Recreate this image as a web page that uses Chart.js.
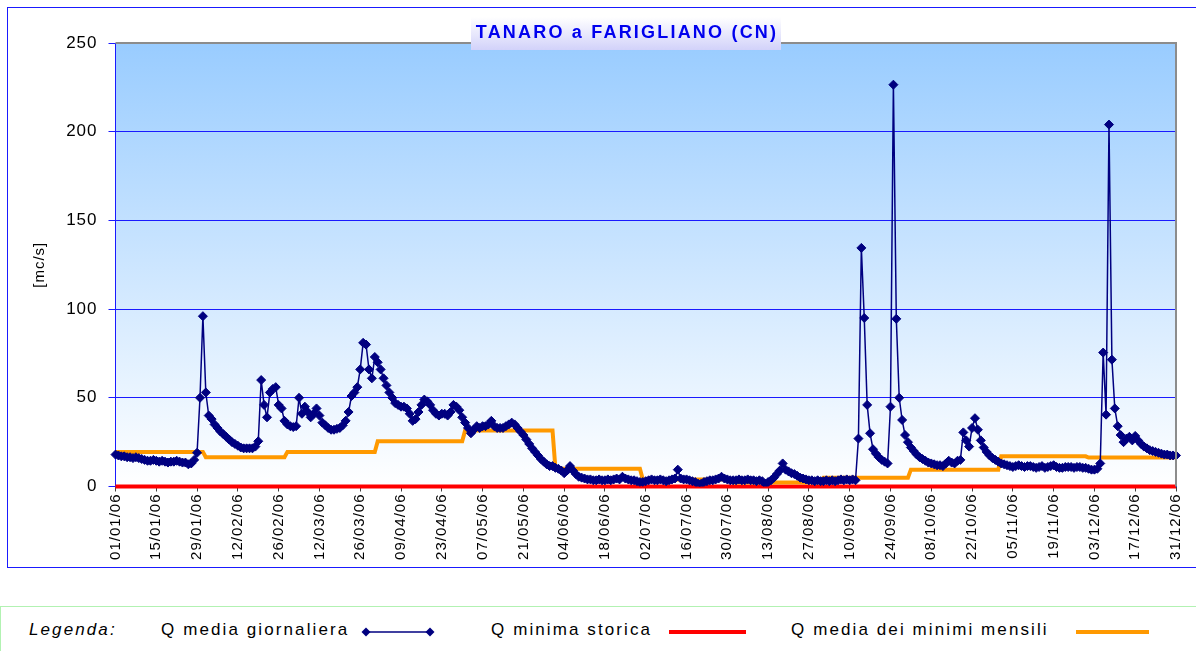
<!DOCTYPE html>
<html>
<head>
<meta charset="utf-8">
<script src="https://cdn.jsdelivr.net/npm/chart.js@4/dist/chart.umd.min.js"></script>
<style>
  body { margin: 0; width: 1196px; height: 651px; overflow: hidden; position: relative; background: #fff;
         font-family: Arial, "Liberation Sans", sans-serif; }
  #frame { position: absolute; left: 7px; top: 7px; width: 1200px; height: 561px; border: 1px solid #1a1aff; box-sizing: border-box; }
  #wrap { position: absolute; left: 0; top: 0; width: 1196px; height: 567px; }
  #legend { position: absolute; left: 0; top: 606px; width: 1210px; height: 60px; border: 1.5px solid #b2f2b2; background: #fff; }
  .lg { position: absolute; top: 13px; font-size: 17px; letter-spacing: 2.1px; color: #000; white-space: nowrap; }
  .bar { position: absolute; top: 23px; height: 4px; }
</style>
</head>
<body>
<div id="frame"></div>
<div id="wrap"><canvas id="chart"></canvas></div>
<div id="legend">
  <span class="lg" style="left:28px;font-style:italic;">Legenda:</span>
  <span class="lg" style="left:160px;">Q media giornaliera</span>
  <svg style="position:absolute;left:359px;top:17px" width="76" height="16">
    <line x1="6" y1="8" x2="70" y2="8" stroke="#000080" stroke-width="1.5"/>
    <polygon points="6,3.5 10.5,8 6,12.5 1.5,8" fill="#000080"/>
    <polygon points="70,3.5 74.5,8 70,12.5 65.5,8" fill="#000080"/>
  </svg>
  <span class="lg" style="left:490px;">Q minima storica</span>
  <div class="bar" style="left:668px;width:77px;background:#ff0000;"></div>
  <span class="lg" style="left:790px;">Q media dei minimi mensili</span>
  <div class="bar" style="left:1075px;width:73px;background:#ff9900;"></div>
</div>
<script>
// portate giornaliere 2006 [mc/s], un array per mese
const qGen = [18, 17.5, 17, 17, 16.5, 16.5, 16, 16.5, 16, 15.5, 15, 14.5, 14.5, 15, 14.5, 14, 14.5, 14, 13.5, 14,
  14, 14.5, 14, 13.5, 13.5, 12.5, 13, 15, 19, 50, 96];
const qFeb = [53, 40, 38, 35, 33, 31, 29.5, 28, 26.5, 25, 24, 23, 22, 21.5, 21.5, 21.5, 21.5, 22.5, 25.5, 60,
  46, 39, 53, 55, 56, 46, 44, 37];
const qMar = [35, 34, 33.5, 34, 50, 41, 45, 42, 39, 41, 44, 40, 36, 34.5, 33, 32, 32, 32.5, 33, 34.5,
  37, 42, 51, 53, 56, 66, 81, 80, 66, 61, 73];
const qApr = [70, 66, 61, 57, 53, 50, 47, 46, 45, 45, 44, 41, 37, 38, 42, 46, 49, 48, 46, 43,
  41, 40, 41, 41, 40, 42, 46, 45, 43, 39];
const qMag = [36, 33, 30, 32, 34, 33, 34, 34, 35, 37, 34, 33, 33, 33, 34, 35, 36, 35, 33, 31,
  29, 26.5, 24, 21.5, 19.5, 17.5, 15.5, 14, 12.5, 11.5, 11.5];
const qGiu = [10.5, 10, 9, 7.5, 9, 11.5, 9, 7, 5.5, 5, 4.5, 4, 4, 3.5, 3.5, 4, 3.5, 3.5, 4, 3.5,
  4, 4.5, 4, 5.5, 4.5, 4, 3.5, 3.5, 3, 2.5];
const qLug = [2.5, 3, 3.5, 4, 3.5, 3.5, 4, 3.5, 3, 3.5, 4, 4.5, 9.5, 4.5, 4, 4, 3.5, 3, 2.5, 1.5,
  1.5, 2.5, 3, 3.5, 3.5, 4, 4.5, 5.5, 4.5, 4, 3.5];
const qAgo = [3.5, 3.5, 4, 3.5, 3.5, 4, 3.5, 3.5, 3, 3.5, 3, 1.5, 2.5, 3.5, 5, 7, 9, 13, 9.5, 8.5,
  7.5, 7, 6, 5, 4.5, 4, 3.5, 3.5, 3, 3.5, 3];
const qSet = [3, 3.5, 3, 3.5, 3, 3.5, 4, 3.5, 4, 3.5, 4, 3.5, 27, 134.5, 95, 46, 30, 21, 18.5, 16.5,
  15, 14, 13, 45, 226.5, 94.5, 50, 37.5, 29, 25];
const qOtt = [22, 20, 18, 16.5, 15.5, 14.5, 13.5, 13, 12.5, 12, 12, 11.5, 13, 14.5, 13.5, 13, 14.5, 15, 30.5, 26,
  22.5, 33, 38.5, 32, 26, 22, 19.5, 17.5, 16, 15, 14];
const qNov = [13, 12.5, 12, 11.5, 11, 11.5, 12, 11.5, 11, 11.5, 11.5, 11, 10.5, 11, 11.5, 10.5, 11, 11.5, 12, 11,
  10.5, 10.5, 11, 11, 11, 10.5, 11, 11, 10.5, 10.5];
const qDic = [10, 9.5, 9.5, 10, 13, 75.5, 40.5, 204, 71.5, 44, 34, 29, 25, 27, 28, 26, 28.5, 26, 24, 22.5,
  21.5, 20.5, 20, 19.5, 19, 18.5, 18, 18, 17.5, 17.5, 17.5];

// Q media dei minimi mensili (gen..dic) e Q minima storica
const minimiMensili = [19.5, 16.5, 19.5, 25.5, 31.5, 10, 4, 2.3, 5, 9.5, 17, 16.3];
const minimaStorica = 0;

const yTicks = [0, 50, 100, 150, 200, 250];
const TICK_EVERY = 14;

const qMedia = [].concat(qGen, qFeb, qMar, qApr, qMag, qGiu, qLug, qAgo, qSet, qOtt, qNov, qDic);

const labels = [];
const months = [];
for (let d = new Date(2006, 0, 1); d.getFullYear() === 2006; d.setDate(d.getDate() + 1)) {
  const dd = String(d.getDate()).padStart(2, "0");
  const mm = String(d.getMonth() + 1).padStart(2, "0");
  labels.push(dd + "/" + mm + "/06");
  months.push(d.getMonth());
}
const qMinMens = months.map((m) => minimiMensili[m]);
const qMinStor = months.map(() => minimaStorica);

const plotDecor = {
  id: "plotDecor",
  beforeDraw(chart) {
    const { ctx, chartArea: a } = chart;
    ctx.save();
    const g = ctx.createLinearGradient(0, a.top, 0, a.bottom);
    g.addColorStop(0, "#99ccff");
    g.addColorStop(1, "#ffffff");
    ctx.fillStyle = g;
    ctx.fillRect(a.left, a.top, a.right - a.left, a.bottom - a.top);
    ctx.restore();
    ctx.letterSpacing = "1px";
  },
  afterDatasetsDraw(chart) {
    const { ctx, chartArea: a } = chart;
    ctx.save();
    ctx.strokeStyle = "#8c8c8c";
    ctx.lineWidth = 2;
    ctx.beginPath();
    ctx.moveTo(a.left, a.top);
    ctx.lineTo(a.right, a.top);
    ctx.lineTo(a.right, a.bottom);
    ctx.stroke();
    ctx.restore();
  },
  afterDraw(chart) {
    const ctx = chart.ctx;
    ctx.save();
    const g = ctx.createLinearGradient(0, 17, 0, 50);
    g.addColorStop(0, "#ffffff");
    g.addColorStop(1, "#d2d2fa");
    ctx.fillStyle = g;
    ctx.fillRect(471, 17, 310, 33);
    ctx.letterSpacing = "2.2px";
    ctx.font = "bold 18px Arial, 'Liberation Sans', sans-serif";
    ctx.fillStyle = "#0000ee";
    ctx.textAlign = "center";
    ctx.textBaseline = "middle";
    ctx.fillText("TANARO a FARIGLIANO (CN)", 627, 33);
    ctx.restore();
    ctx.letterSpacing = "0px";
  },
};

new Chart(document.getElementById("chart"), {
  type: "line",
  data: {
    labels: labels,
    datasets: [
      {
        label: "Q media giornaliera",
        data: qMedia,
        borderColor: "#000080",
        backgroundColor: "#000080",
        borderWidth: 1.5,
        pointStyle: "rectRot",
        pointRadius: 4.5,
        pointBorderWidth: 1,
        pointBackgroundColor: "#000080",
        pointBorderColor: "#000080",
        tension: 0,
      },
      {
        label: "Q media dei minimi mensili",
        data: qMinMens,
        borderColor: "#ff9900",
        borderWidth: 4,
        pointRadius: 0,
        tension: 0,
      },
      {
        label: "Q minima storica",
        data: qMinStor,
        borderColor: "#ff0000",
        borderWidth: 4,
        pointRadius: 0,
        clip: false,
      },
    ],
  },
  options: {
    responsive: true,
    maintainAspectRatio: false,
    animation: false,
    layout: { padding: { left: 0, top: 43, right: 16, bottom: 0 } },
    plugins: { legend: { display: false }, tooltip: { enabled: false } },
    scales: {
      x: {
        type: "category",
        afterBuildTicks: (scale) => {
          scale.ticks = scale.ticks.filter((t) => t.value % TICK_EVERY === 0);
        },
        afterFit: (scale) => { scale.height = 80.5; },
        grid: { drawOnChartArea: false, drawTicks: true, tickLength: 5, color: "#404040" },
        border: { display: true, color: "#0000ff" },
        ticks: {
          autoSkip: false,
          minRotation: 90,
          maxRotation: 90,
          padding: 2,
          color: "#000",
          font: { family: "Arial, 'Liberation Sans', sans-serif", size: 15 },
        },
      },
      y: {
        min: 0,
        max: 250,
        afterBuildTicks: (scale) => { scale.ticks = yTicks.map((v) => ({ value: v })); },
        afterFit: (scale) => { scale.width = 115.5; },
        grid: { color: "#1a1aff", lineWidth: 1, tickLength: 7 },
        border: { display: true, color: "#1a1aff" },
        ticks: {
          padding: 11,
          color: "#000",
          font: { family: "Arial, 'Liberation Sans', sans-serif", size: 17 },
        },
        title: {
          display: true,
          text: "[mc/s]",
          color: "#000",
          padding: { top: 31, bottom: 0 },
          font: { family: "Arial, 'Liberation Sans', sans-serif", size: 15 },
        },
      },
    },
  },
  plugins: [plotDecor],
});
</script>
</body>
</html>
